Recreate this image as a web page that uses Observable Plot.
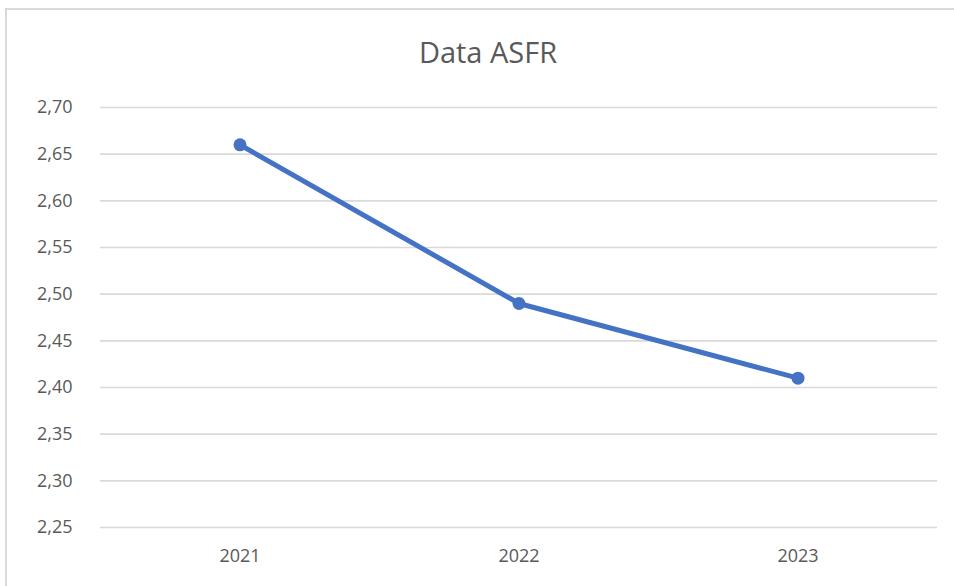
<!DOCTYPE html>
<html>
<head>
<meta charset="utf-8">
<script src="https://cdn.jsdelivr.net/npm/d3@7"></script>
<script src="https://cdn.jsdelivr.net/npm/@observablehq/plot@0.6"></script>
<style>
  html, body { margin: 0; padding: 0; background: #fff; }
  #wrap { position: relative; width: 954px; height: 586px; overflow: hidden; font-family: "Open Sans", "Liberation Sans", sans-serif; }
  #frame { position: absolute; left: 5px; top: 8px; width: 1000px; height: 700px; border-left: 2px solid #d9d9d9; border-top: 2px solid #d9d9d9; box-sizing: border-box; }
  #title { position: absolute; left: 0; top: 0; width: 976px; height: 80px; text-align: center; line-height: 104px; font-size: 29px; color: #595959; }
  #chart { position: absolute; left: 0; top: 80px; }
</style>
</head>
<body>
<div id="wrap">
  <div id="frame"></div>
  <div id="title">Data ASFR</div>
  <div id="chart"></div>
</div>
<script>
const years = ["2021", "2022", "2023"];
const asfr = [2.66, 2.49, 2.41];
const yTicks = [2.25, 2.30, 2.35, 2.40, 2.45, 2.50, 2.55, 2.60, 2.65, 2.70];

const data = years.map((y, i) => ({year: y, value: asfr[i]}));
const fmt = d => d.toFixed(2).replace(".", ",");

const chart = Plot.plot({
  width: 954,
  height: 506,
  marginTop: 27,
  marginBottom: 59,
  marginLeft: 100,
  marginRight: 17,
  style: {fontFamily: "'Open Sans', 'Liberation Sans', sans-serif", fontSize: "18px", color: "#595959", background: "transparent"},
  x: {type: "band", domain: years, padding: 0, label: null, tickSize: 0, tickPadding: 22},
  y: {domain: [2.25, 2.70], ticks: yTicks, tickFormat: fmt, label: null, tickSize: 0, tickPadding: 28},
  marks: [
    Plot.ruleY(yTicks, {stroke: "#d9d9d9", strokeWidth: 1.6, strokeOpacity: 1}),
    Plot.line(data, {x: "year", y: "value", stroke: "#4472C4", strokeWidth: 5}),
    Plot.dot(data, {x: "year", y: "value", r: 6.5, fill: "#4472C4", stroke: "none"})
  ]
});
document.getElementById("chart").appendChild(chart);
</script>
</body>
</html>
